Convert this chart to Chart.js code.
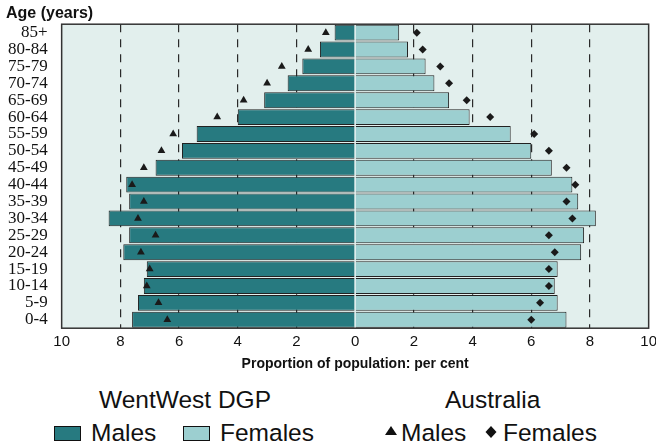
<!DOCTYPE html>
<html>
<head>
<meta charset="utf-8">
<script src="https://cdn.jsdelivr.net/npm/chart.js@4/dist/chart.umd.min.js"></script>
<style>
  body { margin: 0; background: #fff; }
  #wrap { position: relative; width: 656px; height: 448px; overflow: hidden; }
  #box { position: absolute; left: 0; top: 0; width: 662px; height: 373px; }
  .lg { position: absolute; font-family: 'Liberation Sans', Arial, sans-serif; color: #111; font-size: 24.5px; line-height: 24.5px; white-space: nowrap; }
  .sw { position: absolute; width: 25px; height: 13px; border: 1.5px solid #111; }
  #edad { position: absolute; left: 6px; top: 5px; font: bold 16px/16px 'Liberation Sans', Arial, sans-serif; color: #111; }
</style>
</head>
<body>
<div id="wrap">
  <div id="box"><canvas id="myChart"></canvas></div>
  <div id="edad">Age (years)</div>
  <div class="lg" style="left:99px; top:388px;">WentWest DGP</div>
  <div class="sw" style="left:54px; top:426px; background:#277a80"></div>
  <div class="lg" style="left:91px; top:421px;">Males</div>
  <div class="sw" style="left:183px; top:426px; background:#9ccfd0"></div>
  <div class="lg" style="left:220px; top:421px;">Females</div>
  <div class="lg" style="left:445px; top:388px;">Australia</div>
  <svg style="position:absolute; left:385px; top:426px;" width="12" height="10"><polygon points="6,0 12,9 0,9" fill="#111"/></svg>
  <div class="lg" style="left:401px; top:421px;">Males</div>
  <svg style="position:absolute; left:485px; top:426px;" width="12" height="12"><polygon points="6,0 11.5,6 6,12 0.5,6" fill="#111"/></svg>
  <div class="lg" style="left:503px; top:421px;">Females</div>
</div>
<script>
let ages = ['0-4', '5-9', '10-14', '15-19', '20-24', '25-29', '30-34', '35-39', '40-44',
  '45-49', '50-54', '55-59', '60-64', '65-69', '70-74', '75-79', '80-84', '85+']

// WentWest DGP, per cent
let hombres = [7.6, 7.4, 7.2, 7.1, 7.9, 7.7, 8.4, 7.7, 7.8, 6.8, 5.9, 5.4, 4.0, 3.1, 2.3, 1.8, 1.2, 0.7]
let mujeres = [7.2, 6.9, 6.8, 6.9, 7.7, 7.8, 8.2, 7.6, 7.4, 6.7, 6.0, 5.3, 3.9, 3.2, 2.7, 2.4, 1.8, 1.5]

// Australia, per cent
let ausHombres = [6.4, 6.7, 7.1, 7.0, 7.3, 6.8, 7.4, 7.2, 7.6, 7.2, 6.6, 6.2, 4.7, 3.8, 3.0, 2.5, 1.6, 1.0]
let ausMujeres = [6.0, 6.3, 6.6, 6.6, 6.8, 6.6, 7.4, 7.2, 7.5, 7.2, 6.6, 6.1, 4.6, 3.8, 3.2, 2.9, 2.3, 2.1]

let xTicks = [-10, -8, -6, -4, -2, 0, 2, 4, 6, 8, 10]

const fondo = {
  id: 'fondo',
  beforeDraw(chart) {
    let a = chart.chartArea
    let c = chart.ctx
    c.save()
    c.fillStyle = '#e2efed'
    c.fillRect(a.left, a.top, a.right - a.left, a.bottom - a.top)
    c.restore()
  },
  afterDraw(chart) {
    let a = chart.chartArea
    let c = chart.ctx
    c.save()
    c.strokeStyle = '#333'
    c.lineWidth = 1.5
    c.strokeRect(a.left, a.top, a.right - a.left, a.bottom - a.top)
    c.restore()
  }
}

const ctx = document.getElementById('myChart').getContext('2d')
const myChart = new Chart(ctx, {
  type: 'bar',
  data: {
    labels: ages,
    datasets: [
      {
        type: 'line', label: 'Australia Males', indexAxis: 'y',
        data: ausHombres.map(v => -v), showLine: false,
        pointStyle: 'triangle', pointRadius: 4.5, pointBackgroundColor: '#1a1a1a', pointBorderColor: '#1a1a1a', pointBorderWidth: 0
      },
      {
        type: 'line', label: 'Australia Females', indexAxis: 'y',
        data: ausMujeres, showLine: false,
        pointStyle: 'rectRot', pointRadius: 4, pointBackgroundColor: '#1a1a1a', pointBorderColor: '#1a1a1a', pointBorderWidth: 0
      },
      {
        label: 'Males', data: hombres.map(v => -v),
        backgroundColor: '#277a80', borderColor: '#222', borderWidth: 1,
        categoryPercentage: 1, barPercentage: 0.94, grouped: false
      },
      {
        label: 'Females', data: mujeres,
        backgroundColor: '#9ccfd0', borderColor: '#222', borderWidth: 1,
        categoryPercentage: 1, barPercentage: 0.94, grouped: false
      }
    ]
  },
  options: {
    indexAxis: 'y',
    responsive: true,
    maintainAspectRatio: false,
    animation: false,
    layout: { padding: { left: -6, right: 0, top: 22, bottom: 0 } },
    plugins: {
      legend: { display: false },
      tooltip: { enabled: false }
    },
    scales: {
      x: {
        min: -10, max: 10,
        afterBuildTicks: (axis) => { axis.ticks = xTicks.map(v => ({ value: v })) },
        grid: {
          drawTicks: false,
          color: (c) => (Math.abs(c.tick.value) % 10 === 0 ? 'rgba(0,0,0,0)' : '#2a2a2a'),
          lineWidth: 1.2
        },
        border: { display: true, color: 'rgba(0,0,0,0)', dash: [8, 7] },
        ticks: {
          color: '#111', padding: 5,
          font: { family: 'Liberation Sans, Arial, sans-serif', size: 15 },
          callback: (v) => Math.abs(v)
        },
        title: {
          display: true, text: 'Proportion of population: per cent', color: '#111',
          padding: { top: 0, bottom: 0 },
          font: { family: 'Liberation Sans, Arial, sans-serif', size: 14, weight: 'bold' }
        }
      },
      y: {
        reverse: true,
        grid: { display: false, drawTicks: false },
        border: { display: false },
        ticks: {
          color: '#111', padding: 14, autoSkip: false,
          font: { family: 'Liberation Serif, Times New Roman, serif', size: 17 }
        }
      }
    }
  },
  plugins: [fondo]
})
</script>
</body>
</html>
